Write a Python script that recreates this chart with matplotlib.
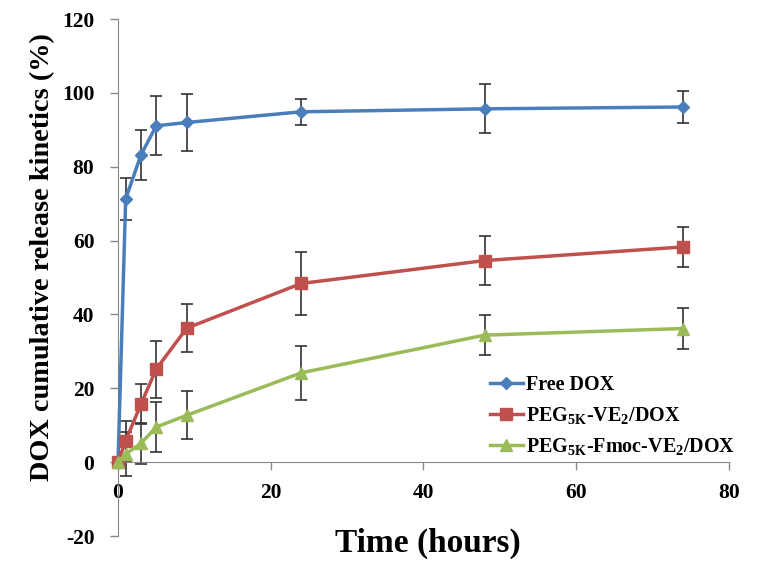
import matplotlib
matplotlib.use("Agg")
import matplotlib.pyplot as plt

plt.rcParams['font.family'] = ['Liberation Serif', 'DejaVu Serif']
plt.rcParams['font.weight'] = 'bold'
plt.rcParams['axes.unicode_minus'] = False
plt.rcParams['mathtext.fontset'] = 'custom'
plt.rcParams['mathtext.rm'] = 'Liberation Serif:bold'
plt.rcParams['mathtext.it'] = 'Liberation Serif:bold'
plt.rcParams['mathtext.bf'] = 'Liberation Serif:bold'

time_h = [0, 1, 3, 5, 9, 24, 48, 74]

free_dox = [0, 71.3, 83.2, 91.1, 92.0, 94.9, 95.7, 96.2]
free_dox_err = [0, 5.8, 6.8, 8.0, 7.7, 3.5, 6.6, 4.4]

peg_ve = [0, 5.8, 15.7, 25.2, 36.3, 48.4, 54.6, 58.3]
peg_ve_err = [0, 5.4, 5.4, 7.7, 6.5, 8.6, 6.6, 5.5]

peg_fmoc = [0, 2.2, 5.1, 9.5, 12.7, 24.2, 34.4, 36.2]
peg_fmoc_err = [0, 6.0, 5.6, 6.7, 6.5, 7.3, 5.4, 5.6]

labels = ['Free DOX', r'PEG$_{5K}$-VE$_{2}$/DOX', r'PEG$_{5K}$-Fmoc-VE$_{2}$/DOX']
colors = ['#4A7EBB', '#C0504D', '#9BBB59']
markers = ['D', 's', '^']
msizes = [6, 9, 8]

x_ticks = [0, 20, 40, 60, 80]
y_ticks = [-20, 0, 20, 40, 60, 80, 100, 120]

fig = plt.figure(figsize=(7.64, 5.74), dpi=100)
ax = fig.add_axes([0.1545, 0.0662, 0.7995, 0.9005])

series = [(free_dox, free_dox_err), (peg_ve, peg_ve_err), (peg_fmoc, peg_fmoc_err)]
for (vals, errs), lab, c, m, ms in zip(series, labels, colors, markers, msizes):
    ax.errorbar(time_h, vals, yerr=errs, fmt='none', ecolor='#333333',
                elinewidth=1.2, capsize=4, capthick=1.2, zorder=2)
    ax.plot(time_h, vals, color=c, marker=m, markersize=ms, linewidth=2.5,
            label=lab, zorder=3, clip_on=False)

ax.set_xlim(0, 80)
ax.set_ylim(-20, 120)
ax.set_xticks(x_ticks)
ax.set_yticks(y_ticks)

for s in ['top', 'right']:
    ax.spines[s].set_visible(False)
ax.spines['bottom'].set_position(('data', 0))
ax.spines['bottom'].set_color('#888888')
ax.spines['left'].set_color('#888888')
ax.tick_params(axis='both', colors='#888888', length=6, width=1)
ax.tick_params(axis='x', labelsize=15.5, labelcolor='black', pad=9)
ax.tick_params(axis='y', labelsize=15.5, labelcolor='black', pad=11)
for t in ax.get_xticklabels() + ax.get_yticklabels():
    t.set_fontweight('bold')

fig.text(0.56, 0.054, 'Time (hours)', fontsize=24, fontweight='bold',
         ha='center', va='center')
fig.text(0.056, 0.552, 'DOX cumulative release kinetics (%)', fontsize=20.3,
         fontweight='bold', rotation=90, ha='center', va='center')

leg = ax.legend(loc='lower right', bbox_to_anchor=(1.03, 0.13), frameon=False,
                fontsize=14.5, handlelength=1.65, handletextpad=0.15,
                labelspacing=0.5, borderaxespad=0.2)
for t in leg.get_texts():
    t.set_fontweight('bold')

fig.savefig('out.png', dpi=100)
